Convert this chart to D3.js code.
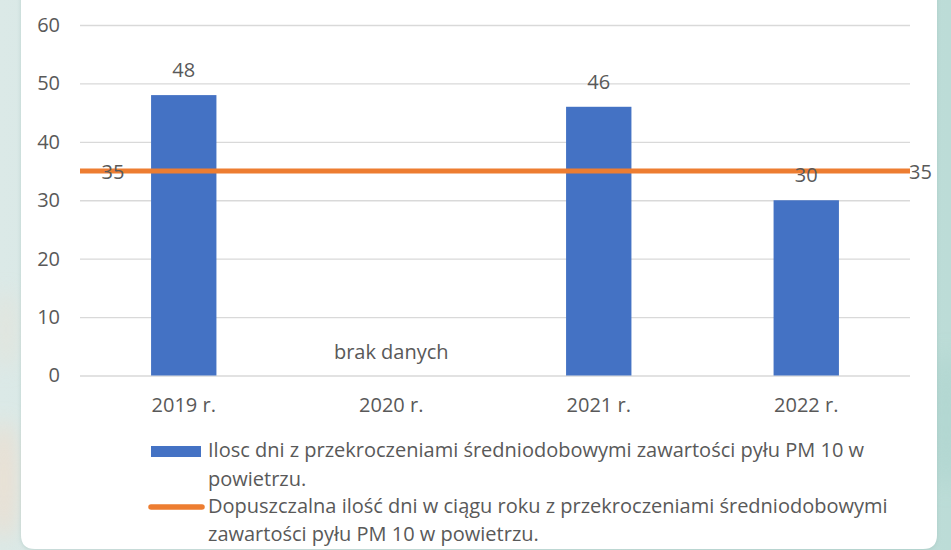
<!DOCTYPE html>
<html>
<head>
<meta charset="utf-8">
<script src="https://cdn.jsdelivr.net/npm/d3@7"></script>
<style>
  html, body { margin: 0; padding: 0; background: #d6e8e5; }
  svg { display: block; }
</style>
</head>
<body>
<svg id="chart" width="951" height="550"></svg>
<script>
// PM10 daily-limit exceedances per year
const categories = ["2019 r.", "2020 r.", "2021 r.", "2022 r."];
const exceedDays = [48, null, 46, 30];
const limitDays = [35, 35, 35, 35];
const yTicks = [0, 10, 20, 30, 40, 50, 60];
const missingLabel = "brak danych";
const legendBars = ["Ilosc dni z przekroczeniami średniodobowymi zawartości pyłu PM 10 w", "powietrzu."];
const legendLine = ["Dopuszczalna ilość dni w ciągu roku z przekroczeniami średniodobowymi", "zawartości pyłu PM 10 w powietrzu."];

const W = 951, H = 550;
const BLUE = "#4472C4", ORANGE = "#ED7D31", TEXT = "#595959", GRID = "#d9d9d9";
const FONT = "'Open Sans', 'Noto Sans', sans-serif";
const FS = 20;

const svg = d3.select("#chart");
const defs = svg.append("defs");

// soft teal backdrop
const bg = defs.append("linearGradient").attr("id", "bg").attr("x1", 0).attr("x2", 1).attr("y1", 0).attr("y2", 0);
bg.append("stop").attr("offset", 0).attr("stop-color", "#dbe9e7");
bg.append("stop").attr("offset", 1).attr("stop-color", "#bcdcd7");
defs.append("filter").attr("id", "soft").attr("x", -1).attr("y", -1).attr("width", 3).attr("height", 3)
  .append("feGaussianBlur").attr("stdDeviation", 10);
defs.append("filter").attr("id", "shadow").attr("x", -0.1).attr("y", -0.1).attr("width", 1.2).attr("height", 1.2)
  .append("feGaussianBlur").attr("stdDeviation", 2);

svg.append("rect").attr("width", W).attr("height", H).attr("fill", "url(#bg)");
svg.append("ellipse").attr("cx", 4).attr("cy", 480).attr("rx", 14).attr("ry", 60)
  .attr("fill", "#f0dccb").attr("opacity", 0.7).attr("filter", "url(#soft)");
svg.append("ellipse").attr("cx", 6).attr("cy", 330).attr("rx", 10).attr("ry", 40)
  .attr("fill", "#e9e0d2").attr("opacity", 0.5).attr("filter", "url(#soft)");
svg.append("ellipse").attr("cx", 946).attr("cy", 420).attr("rx", 10).attr("ry", 70)
  .attr("fill", "#a9d2cc").attr("opacity", 0.7).attr("filter", "url(#soft)");

// white card, rounded at the bottom
const card = { x0: 21, x1: 937, y0: -20, y1: 549, r: 14 };
const cardPath = `M${card.x0},${card.y0} H${card.x1} V${card.y1 - card.r} Q${card.x1},${card.y1} ${card.x1 - card.r},${card.y1} H${card.x0 + card.r} Q${card.x0},${card.y1} ${card.x0},${card.y1 - card.r} Z`;
svg.append("path").attr("d", cardPath).attr("fill", "#9fbdb8").attr("opacity", 0.5)
  .attr("transform", "translate(0,1)").attr("filter", "url(#shadow)");
svg.append("path").attr("d", cardPath).attr("fill", "#ffffff");

// scales
const plot = { left: 80, right: 910, top: 25, bottom: 375.5 };
const x = d3.scaleBand().domain(categories).range([plot.left, plot.right]).paddingInner(0).paddingOuter(0);
const y = d3.scaleLinear().domain([0, 60]).range([plot.bottom, plot.top]);
const barW = x.bandwidth() * 0.315;

// gridlines + y labels
const yAxis = d3.axisLeft(y).tickValues(yTicks).tickSize(-(plot.right - plot.left)).tickPadding(20);
const gy = svg.append("g").attr("transform", `translate(${plot.left},0)`).call(yAxis);
gy.select(".domain").remove();
gy.selectAll(".tick line").attr("stroke", GRID).attr("stroke-width", 1.3);
gy.selectAll(".tick text").attr("fill", TEXT).attr("font-family", FONT).attr("font-size", FS);

// x labels
const xAxis = d3.axisBottom(x).tickSize(0).tickPadding(22);
const gx = svg.append("g").attr("transform", `translate(0,${plot.bottom})`).call(xAxis);
gx.select(".domain").remove();
gx.selectAll(".tick text").attr("fill", TEXT).attr("font-family", FONT).attr("font-size", FS);

// bars
const barData = categories.map((c, i) => ({ c, v: exceedDays[i] }));
svg.append("g").selectAll("rect").data(barData.filter(d => d.v != null)).join("rect")
  .attr("x", d => x(d.c) + x.bandwidth() / 2 - barW / 2)
  .attr("y", d => y(d.v))
  .attr("width", barW)
  .attr("height", d => y(0) - y(d.v))
  .attr("fill", BLUE);

// missing-data note
barData.filter(d => d.v == null).forEach(d => {
  svg.append("text").attr("x", x(d.c) + x.bandwidth() / 2).attr("y", y(0) - 24)
    .attr("dy", "0.35em").attr("text-anchor", "middle")
    .attr("fill", TEXT).attr("font-family", FONT).attr("font-size", FS).text(missingLabel);
});

// limit line across the full plot width
const lineX = d3.scaleLinear().domain([0, limitDays.length - 1]).range([plot.left, plot.right]);
svg.append("path")
  .datum(limitDays)
  .attr("d", d3.line().x((d, i) => lineX(i)).y(d => y(d)))
  .attr("fill", "none").attr("stroke", ORANGE).attr("stroke-width", 5);

// bar value labels
svg.append("g").selectAll("text").data(barData.filter(d => d.v != null)).join("text")
  .attr("x", d => x(d.c) + x.bandwidth() / 2)
  .attr("y", d => y(d.v) - 25)
  .attr("dy", "0.35em").attr("text-anchor", "middle")
  .attr("fill", TEXT).attr("font-family", FONT).attr("font-size", FS)
  .text(d => d.v);

// limit labels at both ends
const last = limitDays.length - 1;
svg.append("text").attr("x", lineX(0) + 33).attr("y", y(limitDays[0]) + 1)
  .attr("dy", "0.35em").attr("text-anchor", "middle")
  .attr("fill", TEXT).attr("font-family", FONT).attr("font-size", FS).text(limitDays[0]);
svg.append("text").attr("x", lineX(last) - 1).attr("y", y(limitDays[last]) + 1)
  .attr("dy", "0.35em").attr("text-anchor", "start")
  .attr("fill", TEXT).attr("font-family", FONT).attr("font-size", FS).text(limitDays[last]);

// legend
const lg = svg.append("g");
lg.append("rect").attr("x", 151).attr("y", 446).attr("width", 50).attr("height", 11).attr("fill", BLUE);
lg.append("line").attr("x1", 151).attr("x2", 202).attr("y1", 507).attr("y2", 507)
  .attr("stroke", ORANGE).attr("stroke-width", 5.5).attr("stroke-linecap", "round");
const legendRows = [
  { t: legendBars[0], y: 451 }, { t: legendBars[1], y: 480 },
  { t: legendLine[0], y: 507 }, { t: legendLine[1], y: 535 }
];
lg.selectAll("text.row").data(legendRows).join("text").attr("class", "row")
  .attr("x", 208).attr("y", d => d.y).attr("dy", "0.32em")
  .attr("fill", TEXT).attr("font-family", FONT).attr("font-size", 20)
  .text(d => d.t);
</script>
</body>
</html>
